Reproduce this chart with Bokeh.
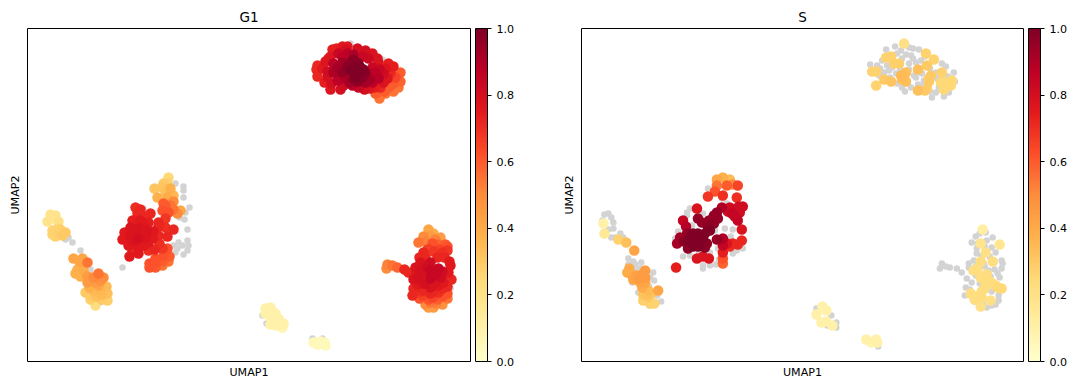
from bokeh.plotting import figure
from bokeh.layouts import row
from bokeh.models import ColorBar, FixedTicker, LinearColorMapper, NumeralTickFormatter, Range1d, ColumnDataSource
from bokeh.embed import file_html
from bokeh.resources import INLINE
import numpy as np

TITLES = ["G1", "S"]
X_LABEL = "UMAP1"
Y_LABEL = "UMAP2"
CBAR_TICKS = [0.0, 0.2, 0.4, 0.6, 0.8, 1.0]

# (UMAP1, UMAP2, score), in plot units
g1_top = [(290,296,.72),(289,292,.72),(295,293,.75),(297,279,.74),(304,278,.8),(301,303,.74),(305,312,.74),(315,315,.76),(320,315,.76),(311,308,.84),(320,308,.87),(326,307,.9),(306,298,.87),(315,299,.92),(323,299,.95),(331,298,.98),(330,313,.8),(338,311,.8),(345,308,.78),(350,303,.78),(341,303,.83),(351,299,.78),(306,289,.9),(315,289,.95),(323,291,1.0),(331,289,1.0),(338,289,.97),(333,294,1.0),(310,281,.87),(318,283,.9),(326,283,.97),(335,284,.98),(316,276,.82),(325,276,.87),(331,274,.84),(337,272,.8),(345,279,.87),(351,283,.88),(348,289,.87),(356,288,.82),(356,279,.78),(361,298,.74),(366,295,.74),(363,289,.72),(373,289,.6),(368,284,.65),(366,278,.6),(371,274,.55),(361,274,.6),(358,268,.55),(348,268,.6),(352,263,.55),(353,274,.72),(345,286,.84),
          (300,290,.82),(310,294,.92),(320,295,.97),(328,294,1),(336,292,1),(328,284,1),(322,279,.92),(312,284,.87),(300,285,.8),(303,305,.77),(315,304,.87),(326,302,.97),(335,305,.84),(345,294,.84),(342,282,.92),(358,293,.78),(360,283,.77),(352,292,.84),(338,279,.92),(330,280,.97),(318,312,.8),(309,313,.74),(366,270,.55),(373,280,.58),(357,270,.6),(347,274,.74),(342,273,.77),(298,300,.77),(290,285,.72),(303,272,.77),(313,272,.8)]
g1_yellow = [(23,147,.18),(28,146,.18),(20,140,.18),(31,140,.2),(25,131,.27),(31,129,.28),(38,129,.3),(28,125,.27),(35,126,.3),(24,143,.17),(30,133,.25),(25,127,.27),(33,132,.28)]
g1_orange = [(46,103,.42),(52,100,.42),(60,99,.55),(53,94,.38),(48,88,.38),(53,85,.38),(71,88,.55),(66,84,.5),(73,81,.48),(60,79,.45),(66,75,.35),(79,75,.35),(58,69,.3),(66,71,.35),(74,67,.35),(80,68,.33),(63,62,.28),(80,61,.28),(68,56,.22),(71,76,.42),(56,91,.4),(50,92,.38),(60,85,.45),(68,79,.45),(62,74,.38),(73,72,.36),(69,65,.33),(74,62,.3),(63,66,.3),(55,103,.42),(76,84,.5)]
g1_centre = [(108,154,.7),(110,148,.72),(105,141,.74),(113,141,.76),(123,148,.72),(121,139,.74),(131,139,.72),(138,143,.68),(103,134,.78),(111,133,.78),(120,131,.78),(97,129,.75),(95,122,.75),(103,126,.78),(110,123,.8),(118,124,.78),(121,119,.75),(131,126,.72),(140,125,.72),(146,132,.72),(138,134,.7),(101,116,.76),(111,114,.76),(102,105,.75),(111,108,.75),(121,111,.7),(127,112,.72),(135,113,.68),(136,106,.62),(128,103,.62),(122,98,.62),(128,94,.6),(122,94,.62),(135,96,.55),(141,100,.55),(136,158,.6),(143,156,.55),(135,151,.62),(141,149,.62),(146,152,.55),(153,151,.42),(130,164,.38),(127,173,.32),(136,178,.3),(141,184,.25),(138,170,.33),(146,166,.35),
             (115,125,.78),(108,130,.78),(116,137,.76),(126,130,.76),(125,123,.75),(106,120,.78),(117,116,.75),(132,118,.7),(140,113,.62),(134,101,.6),(128,99,.62),(136,100,.58),(142,105,.6),(118,145,.72),(113,152,.72),(138,156,.6),(131,135,.72),(100,121,.76),(105,110,.72),(116,120,.76),(140,164,.4),(143,173,.38),(135,174,.32),(140,178,.28),(146,160,.5),(150,148,.5)]
g1_right = [(401,132,.42),(406,128,.4),(396,125,.5),(413,124,.45),(391,119,.55),(398,120,.52),(405,118,.62),(411,117,.58),(420,115,.62),(396,109,.72),(406,110,.68),(415,109,.7),(420,111,.68),(360,97,.52),(359,93,.5),(365,96,.55),(370,94,.58),(377,92,.72),(381,89,.72),(393,99,.78),(388,94,.78),(403,99,.82),(422,100,.75),(423,96,.75),(393,91,.8),(403,91,.84),(411,93,.84),(391,84,.8),(403,83,.84),(413,84,.82),(421,89,.75),(420,83,.72),(386,82,.78),(395,78,.78),(403,74,.78),(411,76,.76),(420,75,.72),(386,73,.72),(393,70,.7),(403,68,.72),(411,69,.7),(420,68,.62),(385,66,.72),(392,63,.62),(401,62,.62),(410,62,.6),(420,63,.55),(398,57,.5),(406,54,.45),(415,57,.48),(403,59,.55),
            (398,104,.72),(410,104,.72),(392,104,.72),(400,112,.66),(417,104,.72),(397,88,.8),(408,87,.84),(400,95,.82),(415,90,.82),(398,78,.8),(408,79,.78),(416,79,.76),(424,82,.72),(389,87,.76),(396,71,.72),(406,71,.72),(415,65,.62),(395,66,.66),(405,64,.65),(415,73,.72),(390,77,.75),(409,58,.52),(401,54,.45),(418,117,.6),(403,125,.45),(408,122,.52),(402,112,.65),(412,112,.65)]
g1_pale = [(238,53,.1),(243,54,.1),(238,48,.1),(248,48,.1),(243,44,.1),(251,43,.1),(243,37,.1),(249,36,.1),(256,38,.1),(255,34,.08),(286,19,.05),(293,20,.05),(298,16,.05),(297,19,.05),(245,50,.1),(246,40,.1),(252,40,.1),(240,50,.1),(290,17,.05)]
g1_grey = [(323,318),(355,302),(345,298),(41,124),(45,119),(53,111),(38,122),(48,91),(63,92),(73,59),(148,178),(156,175),(156,171),(156,164),(162,154),(158,149),(152,144),(157,142),(160,132),(160,121),(161,116),(155,116),(146,116),(150,113),(160,111),(156,107),(95,94),(116,153),(148,109),(151,119),(423,73),(235,46),(239,38),(285,23),(295,23)]

s_top = [(324,318,.2),(346,308,.27),(354,302,.27),(311,305,.27),(306,304,.27),(314,298,.28),(319,298,.28),(347,296,.3),(338,292,.33),(292,290,.27),(296,290,.27),(362,289,.27),(326,289,.33),(321,286,.35),(351,286,.3),(304,282,.3),(311,280,.32),(322,282,.33),(326,280,.33),(349,280,.3),(361,279,.25),(366,279,.25),(372,281,.25),(371,276,.25),(296,276,.27),(347,273,.28),(338,271,.33),(364,272,.25),(345,271,.3),(349,283,.3),(324,284,.34)]
s_yellow = [(22,138,.1),(23,128,.15),(37,122,.27),(45,119,.33),(53,111,.42)]
s_orange = [(48,93,.4),(46,89,.4),(49,88,.4),(64,91,.45),(52,82,.42),(58,83,.45),(64,84,.45),(64,79,.42),(61,74,.4),(77,71,.42),(67,71,.35),(62,67,.32),(67,64,.3),(62,61,.28),(69,58,.27),(73,58,.27),(55,86,.43),(62,88,.45),(59,79,.42),(66,67,.33),(70,68,.32)]
s_centre = [(116,153,.78),(133,146,.95),(136,149,.95),(141,154,.9),(117,143,.95),(121,139,.95),(133,138,.95),(127,134,.97),(102,141,.85),(105,135,.88),(106,128,.95),(112,128,1),(117,128,1),(124,128,1),(129,131,1),(99,124,.92),(96,118,.92),(107,121,1),(116,121,1),(122,123,1),(126,118,.97),(107,113,.97),(117,115,1),(136,122,.95),(142,123,.9),(124,114,.97),(149,154,.82),(156,152,.82),(162,155,.82),(151,148,.85),(157,141,.85),(159,149,.82),(161,132,.78),(142,116,.85),(116,103,.78),(122,105,.78),(128,103,.78),(95,94,.74),(161,121,.72),(157,117,.72),(149,115,.7),(142,109,.74),(142,103,.62),(142,98,.58),(127,165,.68),(134,170,.62),(142,166,.7),(156,164,.7),(157,176,.65),(146,176,.6),(136,176,.55),(136,182,.42),(142,184,.38),(149,182,.35),(152,177,.5),
            (110,125,1),(103,120,.97),(130,137,.97),(128,141,.95),(120,120,1),(112,115,1),(137,143,.95),(147,150,.82),(154,145,.85),(158,155,.82),(146,118,.78),(152,118,.72)]
s_right = [(403,132,.12),(401,118,.18),(420,117,.17),(406,109,.2),(413,100,.22),(401,100,.22),(398,93,.22),(394,91,.22),(401,84,.22),(409,81,.23),(406,76,.23),(416,76,.23),(422,73,.25),(402,70,.23),(391,68,.22),(402,64,.22),(395,62,.22),(411,61,.2),(401,55,.2),(407,87,.23),(405,73,.23),(397,65,.22),(413,78,.23),(418,74,.25)]
s_pale = [(242,55,.1),(246,51,.1),(236,47,.1),(241,39,.1),(246,40,.1),(252,36,.1),(286,22,.1),(296,22,.1),(291,19,.08),(297,19,.1)]
s_grey = [(306,312),(315,315),(321,311),(329,314),(333,313),(339,312),(317,308),(326,307),(331,306),(302,301),(307,296),(290,297),(297,296),(329,298),(336,299),(341,301),(329,292),(362,298),(366,295),(374,289),(309,291),(304,289),(334,286),(342,288),(356,289),(299,286),(316,288),(317,278),(322,274),(331,274),(336,284),(344,281),(356,269),(359,274),(352,264),(369,269),(357,283),(342,276),
          (312,302),(322,303),(333,303),(345,305),(312,294),(320,293),(337,292),(350,293),(362,286),(350,270),(364,265),(300,293),(310,284),(325,270),(338,277),(345,296),(368,285),(375,280),
          (23,147),(27,148),(30,144),(21,141),(32,139),(27,132),(32,133),(39,128),(30,124),(34,124),(42,124),
          (47,103),(52,100),(60,99),(54,97),(54,91),(72,89),(73,81),(68,56),(80,60),(76,66),(57,69),(51,79),(69,84),(59,93),(68,75),(60,86),(47,97),
          (109,153),(106,149),(127,173),(122,148),(97,130),(111,136),(94,123),(144,133),(134,131),(102,105),(109,106),(122,96),(129,96),(122,93),(135,97),(129,109),(156,111),(162,113),(152,108),(137,113),(146,158),(141,163),(157,158),(126,141),(106,146),(115,130),(150,125),(152,132),(118,108),(126,104),(138,102),(145,120),
          (236,53),(251,46),(256,39),(256,34),(247,36),(298,15),
          (362,98),(366,95),(360,93),(370,94),(377,93),(382,89),(396,125),(392,119),(406,129),(413,124),(397,113),(412,114),(416,109),(397,108),(422,101),(423,98),(394,101),(389,94),(422,93),(409,91),(420,84),(387,83),(392,79),(386,74),(385,66),(419,66),(419,61),(407,54),(416,57),(396,86),(404,98),(407,121),(389,98),
          (400,128),(398,118),(405,115),(402,105),(410,105),(415,100),(396,95),(405,95),(415,92),(392,90),(400,78),(412,70),(395,60),(390,72),(403,58),(412,56),(420,75),(418,88),(411,85)]

g1_cells = g1_top + g1_yellow + g1_orange + g1_centre + g1_right + g1_pale
s_cells = s_top + s_yellow + s_orange + s_centre + s_right + s_pale

ANCHORS = ["#ffffcc", "#ffeda0", "#fed976", "#feb24c", "#fd8d3c", "#fc4e2a", "#e31a1c", "#bd0026", "#800026"]
rgb = np.array([[int(c[i:i+2], 16) for i in (1, 3, 5)] for c in ANCHORS], float)
t = np.linspace(0, 8, 256)
palette = ["#%02x%02x%02x" % tuple(int(round(np.interp(v, range(9), rgb[:, k]))) for k in range(3)) for v in t]


def panel(title, cells, grey, width, frame_w, left):
    mapper = LinearColorMapper(palette=palette, low=0, high=1)
    p = figure(width=width, height=381, output_backend="svg", toolbar_location=None,
               x_range=Range1d(0, frame_w), y_range=Range1d(0, 333),
               min_border_left=left, min_border_right=width - left - frame_w,
               min_border_top=28, min_border_bottom=17,
               title=title, x_axis_label=X_LABEL, y_axis_label=Y_LABEL)
    p.title.align = "center"
    p.title.text_font = "DejaVu Sans"
    p.title.text_font_size = "13.5px"
    p.title.text_font_style = "normal"
    p.title.text_color = "black"
    p.title.standoff = 7
    p.grid.visible = False
    p.outline_line_color = "black"
    p.outline_line_width = 1
    for ax in (p.xaxis[0], p.yaxis[0]):
        ax.ticker = FixedTicker(ticks=[])
        ax.axis_line_color = None
        ax.major_tick_line_color = None
        ax.minor_tick_line_color = None
        ax.axis_label_text_font = "DejaVu Sans"
        ax.axis_label_text_font_size = "11.1px"
        ax.axis_label_text_font_style = "normal"
        ax.axis_label_text_color = "black"
    p.xaxis[0].axis_label_standoff = 4
    p.yaxis[0].axis_label_standoff = 6
    gx, gy = zip(*grey)
    p.scatter(list(gx), list(gy), size=6.5, fill_color="#d3d3d3", line_color=None)
    ordered = sorted(cells, key=lambda c: c[2])
    src = ColumnDataSource(dict(x=[c[0] for c in ordered], y=[c[1] for c in ordered], v=[c[2] for c in ordered]))
    p.scatter("x", "y", source=src, size=10.5, fill_color={"field": "v", "transform": mapper}, line_color=None)
    cb = ColorBar(color_mapper=mapper, ticker=FixedTicker(ticks=CBAR_TICKS), width=12, padding=0, margin=0,
                  location=(5, 0),
                  bar_line_color="black", bar_line_width=1, major_tick_in=0, major_tick_out=4,
                  major_tick_line_color="black", minor_tick_line_color=None,
                  major_label_text_font="DejaVu Sans", major_label_text_font_size="11.1px",
                  major_label_text_color="black", label_standoff=5,
                  formatter=NumeralTickFormatter(format="0.0"))
    p.add_layout(cb, "right")
    return p


left_fig = panel(TITLES[0], g1_cells, g1_grey, 554, 443, 27)
right_fig = panel(TITLES[1], s_cells, s_grey, 516, 444, 27)
page = row(left_fig, right_fig, spacing=0)
open("out.html", "w").write(file_html(page, INLINE))
